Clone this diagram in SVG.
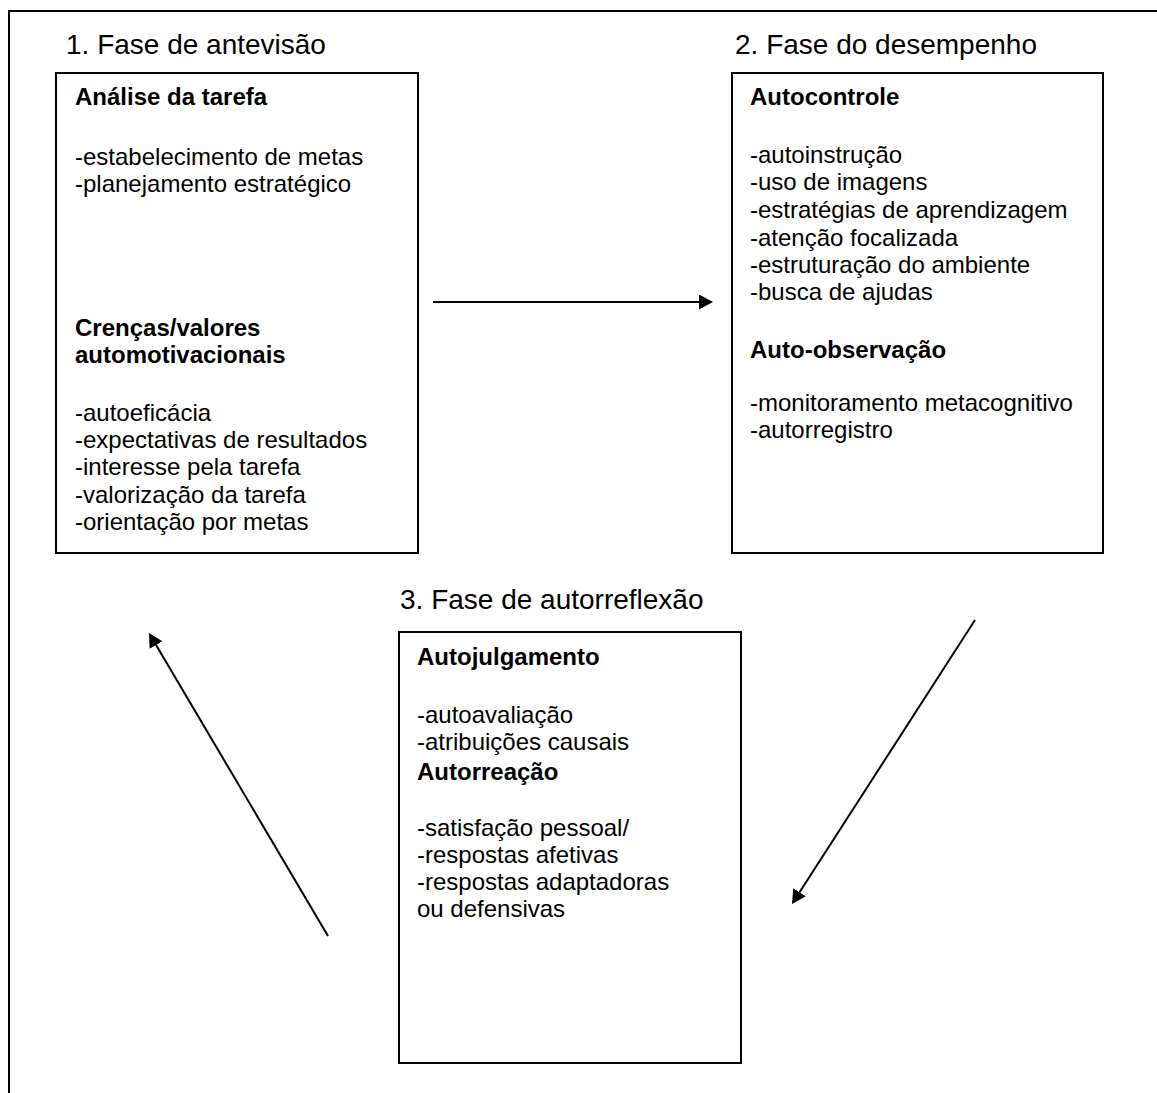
<svg xmlns="http://www.w3.org/2000/svg" width="1157" height="1093" viewBox="0 0 1157 1093">
<style>
  text { font-family: "Liberation Sans", Arial, sans-serif; fill: #000; }
  .title { font-size: 28px; }
  .t { font-size: 24px; }
  .b { font-size: 24px; font-weight: bold; }
  .box { fill: #fff; stroke: #000; stroke-width: 2; }
  .frame { fill: none; stroke: #000; stroke-width: 2; }
  .arrow { fill: none; stroke: #000; stroke-width: 2; marker-end: url(#ah); }
</style>
<defs>
  <marker id="ah" markerUnits="userSpaceOnUse" markerWidth="14" markerHeight="15" refX="12" refY="7.5" orient="auto">
    <path d="M0,0 L14,7.5 L0,15 z" fill="#000"/>
  </marker>
</defs>
<rect x="0" y="0" width="1157" height="1093" fill="#fff"/>
<g id="frame">
  <path class="frame" d="M9,1093 L9,11 L1157,11"/>
</g>
<g id="node-antevisao">
  <text class="title" x="66" y="54">1. Fase de antevisão</text>
  <rect class="box" x="56" y="73" width="362" height="480"/>
  <text class="b" x="75" y="105">Análise da tarefa</text>
  <text class="t" x="75" y="165">-estabelecimento de metas</text>
  <text class="t" x="75" y="192">-planejamento estratégico</text>
  <text class="b" x="75" y="336">Crenças/valores</text>
  <text class="b" x="75" y="363">automotivacionais</text>
  <text class="t" x="75" y="421">-autoeficácia</text>
  <text class="t" x="75" y="448">-expectativas de resultados</text>
  <text class="t" x="75" y="475">-interesse pela tarefa</text>
  <text class="t" x="75" y="503">-valorização da tarefa</text>
  <text class="t" x="75" y="530">-orientação por metas</text>
</g>
<g id="node-desempenho">
  <text class="title" x="735" y="54">2. Fase do desempenho</text>
  <rect class="box" x="732" y="73" width="371" height="480"/>
  <text class="b" x="750" y="105">Autocontrole</text>
  <text class="t" x="750" y="163">-autoinstrução</text>
  <text class="t" x="750" y="190">-uso de imagens</text>
  <text class="t" x="750" y="218">-estratégias de aprendizagem</text>
  <text class="t" x="750" y="246">-atenção focalizada</text>
  <text class="t" x="750" y="273">-estruturação do ambiente</text>
  <text class="t" x="750" y="300">-busca de ajudas</text>
  <text class="b" x="750" y="358">Auto-observação</text>
  <text class="t" x="750" y="411">-monitoramento metacognitivo</text>
  <text class="t" x="750" y="438">-autorregistro</text>
</g>
<g id="node-autorreflexao">
  <text class="title" x="400" y="609">3. Fase de autorreflexão</text>
  <rect class="box" x="399" y="632" width="342" height="431"/>
  <text class="b" x="417" y="665">Autojulgamento</text>
  <text class="t" x="417" y="723">-autoavaliação</text>
  <text class="t" x="417" y="750">-atribuições causais</text>
  <text class="b" x="417" y="780">Autorreação</text>
  <text class="t" x="417" y="836">-satisfação pessoal/</text>
  <text class="t" x="417" y="863">-respostas afetivas</text>
  <text class="t" x="417" y="890">-respostas adaptadoras</text>
  <text class="t" x="417" y="917">ou defensivas</text>
</g>
<g id="connectors">
  <line class="arrow" x1="433" y1="302" x2="711" y2="302"/>
  <line class="arrow" x1="975" y1="620" x2="793.1" y2="902.3"/>
  <line class="arrow" x1="328" y1="936" x2="150" y2="634.7"/>
</g>
</svg>
